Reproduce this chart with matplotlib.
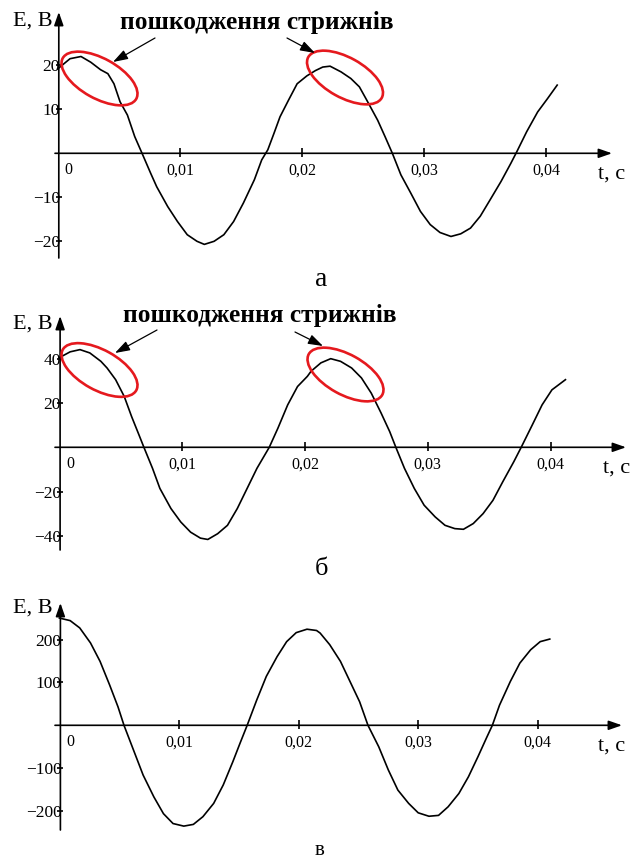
import matplotlib
matplotlib.use('Agg')
import matplotlib.pyplot as plt
from matplotlib.patches import Ellipse

plt.rcParams['font.family'] = ['Liberation Serif', 'DejaVu Serif']

# ---------------- data ----------------
t_a = [0.0000, 0.0010, 0.0019, 0.0027, 0.0035, 0.0041, 0.0046, 0.0051, 0.0057, 0.0063,
       0.0069, 0.0076, 0.0081, 0.0090, 0.0098, 0.0106, 0.0114, 0.0120, 0.0128, 0.0136,
       0.0144, 0.0152, 0.0161, 0.0167, 0.0172, 0.0177, 0.0182, 0.0189, 0.0196, 0.0204,
       0.0211, 0.0217, 0.0223, 0.0232, 0.0240, 0.0247, 0.0253, 0.0262, 0.0268, 0.0274,
       0.0281, 0.0289, 0.0297, 0.0305, 0.0313, 0.0322, 0.0330, 0.0338, 0.0346, 0.0354,
       0.0363, 0.0371, 0.0376, 0.0384, 0.0393, 0.0401, 0.0409]
e_a = [19.2, 21.5, 22.0, 20.7, 19.0, 18.1, 15.8, 11.7, 8.7, 3.8,
       0.0, -4.5, -7.6, -12.1, -15.5, -18.5, -20.0, -20.7, -20.0, -18.5,
       -15.5, -11.3, -6.0, -1.5, 0.8, 4.5, 8.3, 12.1, 15.8, 17.6,
       18.8, 19.6, 19.8, 18.5, 17.0, 15.1, 12.1, 7.5, 3.8, 0.0,
       -4.9, -9.0, -13.2, -16.2, -18.0, -18.9, -18.3, -17.0, -14.3, -10.6,
       -6.4, -2.3, 0.4, 4.9, 9.4, 12.4, 15.5]

t_b = [0.0000, 0.0009, 0.0017, 0.0025, 0.0034, 0.0039, 0.0046, 0.0053, 0.0059, 0.0065,
       0.0069, 0.0076, 0.0082, 0.0091, 0.0099, 0.0107, 0.0115, 0.0121, 0.0129, 0.0137,
       0.0145, 0.0153, 0.0161, 0.0171, 0.0178, 0.0186, 0.0194, 0.0202, 0.0205, 0.0213,
       0.0221, 0.0229, 0.0238, 0.0246, 0.0254, 0.0262, 0.0269, 0.0274, 0.0281, 0.0289,
       0.0297, 0.0306, 0.0314, 0.0322, 0.0329, 0.0337, 0.0345, 0.0353, 0.0361, 0.0370,
       0.0376, 0.0385, 0.0393, 0.0401, 0.0412]
e_b = [40.5, 43.2, 44.2, 42.7, 38.9, 35.9, 30.6, 23.0, 13.9, 5.6,
       0.0, -9.5, -18.6, -27.7, -33.8, -38.4, -41.1, -41.7, -39.1, -35.3,
       -27.7, -18.6, -9.5, 0.0, 8.6, 19.2, 27.5, 32.1, 34.4, 38.2,
       40.1, 38.9, 35.9, 31.4, 24.5, 15.5, 7.1, 0.0, -9.5, -18.6,
       -26.2, -31.5, -35.3, -36.8, -37.1, -34.5, -30.0, -24.0, -15.6, -6.5,
       0.0, 10.1, 19.2, 26.0, 30.6]

t_c = [0.0000, 0.0009, 0.0017, 0.0026, 0.0034, 0.0042, 0.0049, 0.0054, 0.0062, 0.0070,
       0.0079, 0.0087, 0.0095, 0.0104, 0.0112, 0.0120, 0.0129, 0.0137, 0.0145, 0.0151,
       0.0157, 0.0165, 0.0173, 0.0182, 0.0190, 0.0198, 0.0207, 0.0215, 0.0218, 0.0226,
       0.0235, 0.0243, 0.0251, 0.0258, 0.0267, 0.0275, 0.0283, 0.0292, 0.0300, 0.0309,
       0.0317, 0.0325, 0.0334, 0.0342, 0.0350, 0.0357, 0.0362, 0.0368, 0.0377, 0.0385,
       0.0394, 0.0402, 0.0410]
e_c = [250, 244, 227, 192, 149, 94, 43, 0, -58, -116,
       -167, -206, -229, -235, -231, -213, -182, -139, -85, -42,
       0, 59, 114, 160, 195, 216, 224, 221, 215, 188,
       149, 102, 55, 0, -50, -104, -151, -182, -204, -212,
       -210, -190, -159, -120, -73, -30, 0, 47, 102, 145,
       176, 195, 201]

x_ticks = [0.01, 0.02, 0.03, 0.04]
x_ticklabels = ['0,01', '0,02', '0,03', '0,04']
y_ticks_a = [20, 10, -10, -20]
y_ticks_b = [40, 20, -20, -40]
y_ticks_c = [200, 100, -100, -200]
y_label = 'E, B'
x_label = 't, c'
note = 'пошкодження стрижнів'
sub_labels = ['а', 'б', 'в']

# ---------------- layout ----------------
W, H = 639, 859
fig = plt.figure(figsize=(W / 100, H / 100), dpi=100)

panels = [
    dict(top=0, bottom=292, x0=57.8, xs=12210, y0=153.3, ys=4.40,
         ytop=12, ybot=258, xtip=612, xlab_x=598, t=t_a, e=e_a, yt=y_ticks_a,
         ylab_base=26),
    dict(top=292, bottom=586, x0=59.1, xs=12290, y0=447.3, ys=2.21,
         ytop=316, ybot=550, xtip=626, xlab_x=603, t=t_b, e=e_b, yt=y_ticks_b,
         ylab_base=329),
    dict(top=586, bottom=859, x0=59.4, xs=11960, y0=725.3, ys=0.429,
         ytop=603, ybot=830, xtip=622, xlab_x=598, t=t_c, e=e_c, yt=y_ticks_c,
         ylab_base=613),
]

axis_kw = dict(color='black', lw=1.2, solid_capstyle='butt')
xtick_fs = 11.5
ytick_fs = 12.5

for p in panels:
    ax = fig.add_axes([0, 1 - p['bottom'] / H, 1, (p['bottom'] - p['top']) / H])
    x0, xs, y0, ys = p['x0'], p['xs'], p['y0'], p['ys']
    ax.set_xlim(-x0 / xs, (W - x0) / xs)
    ax.set_ylim((y0 - p['bottom']) / ys, (y0 - p['top']) / ys)
    ax.axis('off')

    def X(px):
        return (px - x0) / xs

    def Y(py):
        return (y0 - py) / ys

    ax_px = x0 + 1.0
    # x axis with arrow
    ax.annotate('', xy=(X(p['xtip']), 0), xytext=(X(55), 0),
                arrowprops=dict(arrowstyle='-|>,head_length=0.8,head_width=0.28',
                                lw=1.2, color='black', shrinkA=0, shrinkB=0,
                                mutation_scale=10))
    # y axis with arrow
    ax.annotate('', xy=(X(ax_px), Y(p['ytop'])), xytext=(X(ax_px), Y(p['ybot'])),
                arrowprops=dict(arrowstyle='-|>,head_length=0.8,head_width=0.28',
                                lw=1.2, color='black', shrinkA=0, shrinkB=0,
                                mutation_scale=10))
    # x ticks
    for tv, tl in zip(x_ticks, x_ticklabels):
        ax.plot([tv, tv], [-4 / ys, 5 / ys], **axis_kw)
        ax.text(tv, Y(y0 + 21), tl, ha='center', va='baseline', fontsize=xtick_fs)
    ax.text(X(x0 + 11), Y(y0 + 21), '0', ha='center', va='baseline', fontsize=xtick_fs)
    # y ticks
    for yv in p['yt']:
        ax.plot([X(ax_px - 3), X(ax_px + 3)], [yv, yv], **axis_kw)
        lab = str(yv) if yv > 0 else '\u2212' + str(-yv)
        ax.text(X(ax_px + 1), Y(y0 - yv * ys + 6), lab, ha='right', va='baseline',
                fontsize=ytick_fs)
    # axis titles
    ax.text(X(13), Y(p['ylab_base']), y_label, ha='left', va='baseline', fontsize=16)
    ax.text(X(p['xlab_x']), Y(y0 + 25), x_label, ha='left', va='baseline', fontsize=16)
    # signal
    ax.plot(p['t'], p['e'], color='black', lw=1.2, solid_joinstyle='round')

# ---------------- annotations overlay (pixel space) ----------------
ov = fig.add_axes([0, 0, 1, 1])
ov.set_xlim(0, W)
ov.set_ylim(H, 0)
ov.axis('off')

red = '#e5191e'
for cx, cy in [(99.5, 78.5), (345.0, 77.5), (99.5, 370.0), (345.5, 374.5)]:
    ov.add_patch(Ellipse((cx, cy), width=84, height=40, angle=29, fill=False,
                         ec=red, lw=1.9))

arrows = [((155, 38), (113, 62)), ((287, 38), (315, 53)),
          ((157, 330), (115, 353)), ((295, 332), (323, 346))]
for tail, tip in arrows:
    ov.annotate('', xy=tip, xytext=tail,
                arrowprops=dict(arrowstyle='-|>,head_length=0.9,head_width=0.3',
                                lw=0.9, color='black', shrinkA=0, shrinkB=0,
                                mutation_scale=10))

ov.text(120, 28.7, note, fontsize=18.3, fontweight='bold', ha='left', va='baseline')
ov.text(123, 321.7, note, fontsize=18.3, fontweight='bold', ha='left', va='baseline')

ov.text(321, 286, sub_labels[0], fontsize=20, ha='center', va='baseline')
ov.text(321, 575, sub_labels[1], fontsize=19, ha='center', va='baseline')
ov.text(320, 855, sub_labels[2], fontsize=15, ha='center', va='baseline')

fig.savefig('out.png', dpi=100)
